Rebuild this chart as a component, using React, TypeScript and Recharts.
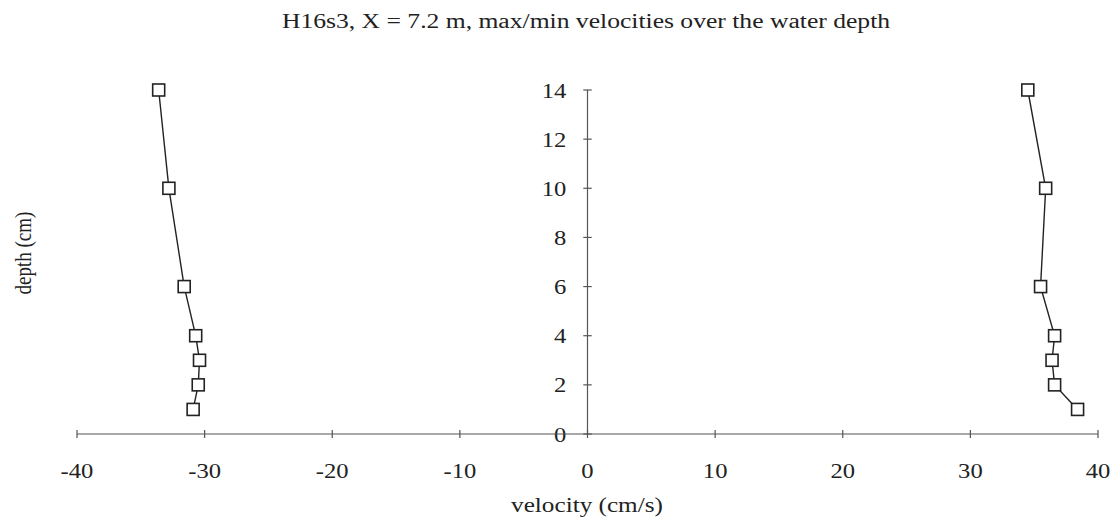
import React from 'react';
import { ComposedChart, Scatter, XAxis, YAxis, ReferenceLine } from 'recharts';

const depths = [14, 10, 6, 4, 3, 2, 1];
const minVelocities = [-33.6, -32.8, -31.6, -30.7, -30.4, -30.5, -30.9];
const maxVelocities = [34.5, 35.9, 35.5, 36.6, 36.4, 36.6, 38.4];
const xTicks = [-40, -30, -20, -10, 0, 10, 20, 30, 40];
const yTicks = [0, 2, 4, 6, 8, 10, 12, 14];

const minData = depths.map((d, i) => ({ v: minVelocities[i], depth: d }));
const maxData = depths.map((d, i) => ({ v: maxVelocities[i], depth: d }));

const FONT = '"Liberation Serif", "DejaVu Serif", serif';
const INK = '#222';
const AXIS = '#555';

const SquareShape = (props: any) => {
  const { cx, cy } = props;
  if (cx == null || cy == null) return null;
  const s = 12;
  return <rect x={cx - s / 2} y={cy - s / 2} width={s} height={s} fill="#fff" stroke={INK} strokeWidth={1.6} />;
};

const XTick = (props: any) => {
  const { x, y, payload } = props;
  return (
    <g>
      <line x1={x} x2={x} y1={y - 4} y2={y + 4} stroke={AXIS} strokeWidth={1.2} />
      <text
        transform={`translate(${x},${y + 36}) scale(1.12,1)`}
        textAnchor="middle"
        dominantBaseline="central"
        fontFamily={FONT}
        fontSize={22}
        fill={INK}
      >
        {payload.value}
      </text>
    </g>
  );
};

const YTickLabel = (props: any) => {
  const { viewBox, value } = props;
  if (!viewBox) return null;
  const x = viewBox.x - 17;
  const y = viewBox.y;
  return (
    <text
      transform={`translate(${x},${y}) scale(1.12,1)`}
      textAnchor="end"
      dominantBaseline="central"
      fontFamily={FONT}
      fontSize={22}
      fill={INK}
    >
      {value}
    </text>
  );
};

export default function App() {
  return (
    <div style={{ position: 'absolute', left: 0, top: 0, width: 1117, height: 528, background: '#fff', overflow: 'hidden' }}>
      <ComposedChart width={1117} height={528} margin={{ top: 90, right: 19, bottom: 34, left: 77 }}>
        <XAxis
          type="number"
          dataKey="v"
          domain={[-40, 40]}
          ticks={xTicks}
          interval={0}
          tickSize={0}
          tickMargin={0}
          tickLine={false}
          axisLine={{ stroke: AXIS, strokeWidth: 1.2 }}
          tick={<XTick />}
          height={60}
          allowDataOverflow
        />
        <YAxis type="number" dataKey="depth" domain={[0, 14]} hide />
        <ReferenceLine x={0} stroke={AXIS} strokeWidth={1.2} />
        {yTicks.map((t) => (
          <ReferenceLine
            key={t}
            segment={[{ x: -0.33, y: t }, { x: 0.33, y: t }]}
            stroke={AXIS}
            strokeWidth={1.2}
            label={<YTickLabel value={String(t)} />}
          />
        ))}
        <Scatter data={minData} line={{ stroke: INK, strokeWidth: 1.4 }} shape={<SquareShape />} isAnimationActive={false} />
        <Scatter data={maxData} line={{ stroke: INK, strokeWidth: 1.4 }} shape={<SquareShape />} isAnimationActive={false} />
      </ComposedChart>
      <div style={{ position: 'absolute', left: 586, top: 21, width: 0, height: 0 }}>
        <div style={{ position: 'absolute', transform: 'translate(-50%, -50%) scaleX(1.28)', whiteSpace: 'nowrap', lineHeight: 1, fontFamily: FONT, fontSize: 20, color: INK }}>
          H16s3, X = 7.2 m, max/min velocities over the water depth
        </div>
      </div>
      <div style={{ position: 'absolute', left: 587, top: 505, width: 0, height: 0 }}>
        <div style={{ position: 'absolute', transform: 'translate(-50%, -50%) scaleX(1.2)', whiteSpace: 'nowrap', lineHeight: 1, fontFamily: FONT, fontSize: 21, color: INK }}>
          velocity (cm/s)
        </div>
      </div>
      <div style={{ position: 'absolute', left: 23, top: 253, width: 0, height: 0 }}>
        <div style={{ position: 'absolute', transform: 'translate(-50%, -50%) rotate(-90deg) scaleY(1.2)', whiteSpace: 'nowrap', lineHeight: 1, fontFamily: FONT, fontSize: 19, color: INK }}>
          depth (cm)
        </div>
      </div>
    </div>
  );
}
